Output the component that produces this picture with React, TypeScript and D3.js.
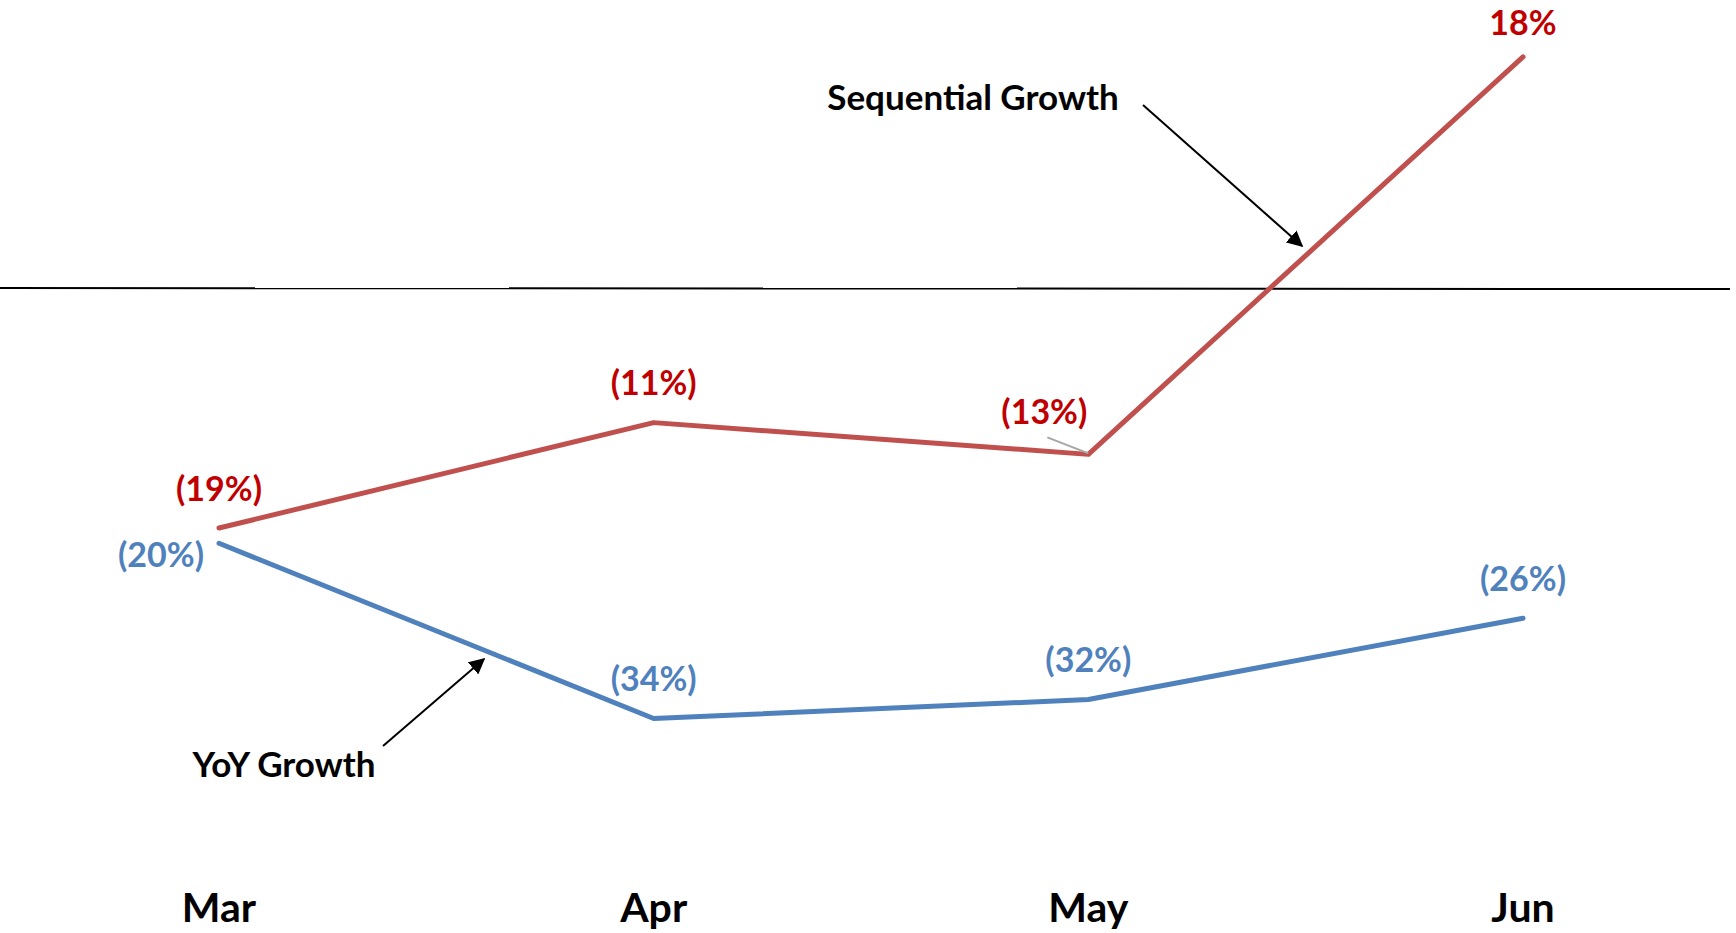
import * as d3 from "d3";

const months = ["Mar", "Apr", "May", "Jun"];
// values; labels show them rounded
const sequentialGrowth = [-18.9, -10.6, -13.1, 18.2];
const yoyGrowth = [-20.1, -33.9, -32.4, -26];

const W = 1736;
const H = 933;
const FONT = "Lato, 'Open Sans', sans-serif";

const RED_LINE = "#C0504D";
const RED_TEXT = "#C00000";
const BLUE = "#4F81BD";

// label nudges relative to each point (px)
const seqLabelOffsets: [number, number][] = [
  [0, -39],
  [0, -40],
  [-44, -42],
  [0, -34],
];
const yoyLabelOffsets: [number, number][] = [
  [-58, 12],
  [0, -39],
  [0, -39],
  [0, -39],
];

const fmt = (v: number) => {
  const r = Math.round(v);
  return r < 0 ? `(${Math.abs(r)}%)` : `${r}%`;
};

export default function App() {
  const x = d3.scalePoint<string>().domain(months).range([219, 1523]);
  const y = d3.scaleLinear().domain([-50, 22]).range([923, 8.6]);

  const line = d3
    .line<number>()
    .x((_, i) => x(months[i]) ?? 0)
    .y((d) => y(d));

  const series = [
    { values: sequentialGrowth, stroke: RED_LINE, text: RED_TEXT, offsets: seqLabelOffsets },
    { values: yoyGrowth, stroke: BLUE, text: BLUE, offsets: yoyLabelOffsets },
  ];

  const mayX = x("May") ?? 0;
  const mayY = y(sequentialGrowth[2]);

  return (
    <svg
      width={W}
      height={H}
      style={{ position: "absolute", left: 0, top: 0, background: "#fff" }}
      fontFamily={FONT}
    >
      <defs>
        <marker
          id="arrow"
          viewBox="0 0 10 10"
          refX="9"
          refY="5"
          markerWidth="8"
          markerHeight="8"
          orient="auto"
          markerUnits="strokeWidth"
        >
          <path d="M0,0 L10,5 L0,10 z" fill="#000" />
        </marker>
      </defs>

      {/* zero line */}
      <line x1={0} x2={1730} y1={y(0)} y2={y(0) + 1} stroke="#000" strokeWidth={2} />

      {series.map((s, si) => (
        <path
          key={si}
          d={line(s.values) ?? ""}
          fill="none"
          stroke={s.stroke}
          strokeWidth={5}
          strokeLinejoin="round"
          strokeLinecap="round"
        />
      ))}

      {/* leader line for May label */}
      <line x1={mayX - 41} y1={mayY - 17} x2={mayX} y2={mayY - 1} stroke="#A6A6A6" strokeWidth={2} />

      {series.map((s, si) =>
        s.values.map((v, i) => (
          <text
            key={`${si}-${i}`}
            x={(x(months[i]) ?? 0) + s.offsets[i][0]}
            y={y(v) + s.offsets[i][1]}
            dy="0.35em"
            textAnchor="middle"
            fontSize={34}
            fontWeight="bold"
            fill={s.text}
          >
            {fmt(v)}
          </text>
        ))
      )}

      {/* annotations */}
      <text x={973} y={110} textAnchor="middle" fontSize={35} fontWeight="bold" fill="#000">
        Sequential Growth
      </text>
      <line x1={1143} y1={105} x2={1302} y2={246} stroke="#000" strokeWidth={2} markerEnd="url(#arrow)" />

      <text x={284} y={777} textAnchor="middle" fontSize={35} fontWeight="bold" fill="#000">
        YoY Growth
      </text>
      <line x1={383} y1={746} x2={484} y2={659} stroke="#000" strokeWidth={2} markerEnd="url(#arrow)" />

      {/* month labels */}
      {months.map((m) => (
        <text
          key={m}
          x={x(m) ?? 0}
          y={922}
          textAnchor="middle"
          fontSize={41}
          fontWeight="bold"
          fill="#000"
        >
          {m}
        </text>
      ))}
    </svg>
  );
}
